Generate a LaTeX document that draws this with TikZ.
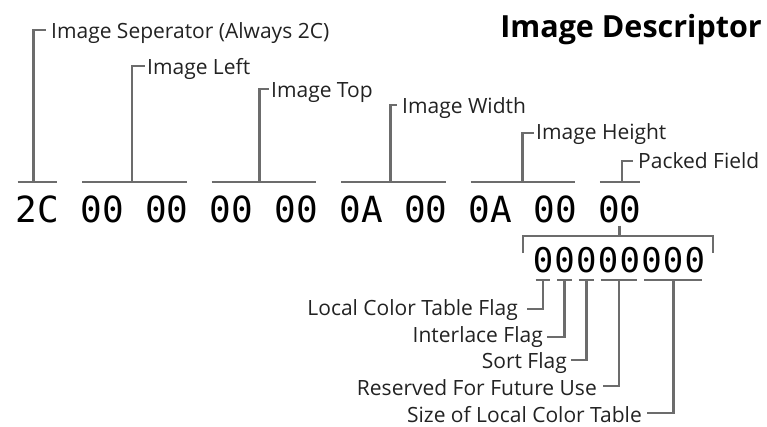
\documentclass[tikz,border=0pt]{standalone}
\usepackage{fontspec}
\setmainfont{Open Sans}
\newfontfamily\hexfont{DejaVu Sans Mono}
\definecolor{leadGray}{RGB}{108,108,108}
\definecolor{labelInk}{RGB}{34,34,34}
\usetikzlibrary{positioning}

\begin{document}
\begin{tikzpicture}[
      x=1pt, y=-1pt,
      every node/.style={inner sep=0pt, text=labelInk},
      hexbyte/.style={font=\hexfont\fontsize{36}{36}\selectfont, anchor=base, text=black},
      bitcell/.style={font=\hexfont\fontsize{34}{34}\selectfont, anchor=base, text=black},
      field/.style={font=\fontsize{21}{24}\selectfont, anchor=base west},
      bitfield/.style={font=\fontsize{21}{24}\selectfont, anchor=base east},
      lead/.style={draw=leadGray, line width=2.8pt},
      bytebar/.style={lead, shorten <=2pt, shorten >=2pt},
      bitbar/.style={lead, shorten <=3pt, shorten >=3pt}
    ]
      \useasboundingbox (0,0) rectangle (767,426);

      % title
      \node[font=\bfseries\fontsize{30.5}{32}\selectfont, anchor=base east, text=black] (title) at (762,37) {Image Descriptor};

      % hex bytes
      \foreach \v [count=\i from 0] in {2C,00,00,00,00,0A,00,0A,00,00}
        \node[hexbyte] (b\i) at (37.5+64.7*\i,222) {\v};

      \coordinate (topbar) at (0,182);
      \draw[bytebar] (b0.west |- topbar) -- coordinate[pos=0.4] (t0) (b0.east |- topbar);
      \draw[bytebar] (b1.west |- topbar) -- coordinate[pos=0.476] (t1) (b2.east |- topbar);
      \draw[bytebar] (b3.west |- topbar) -- coordinate[pos=0.46] (t2) (b4.east |- topbar);
      \draw[bytebar] (b5.west |- topbar) -- coordinate[pos=0.47] (t3) (b6.east |- topbar);
      \draw[bytebar] (b7.west |- topbar) -- coordinate[pos=0.5] (t4) (b8.east |- topbar);
      \draw[bytebar] (b9.west |- topbar) -- coordinate[pos=0.55] (t5) (b9.east |- topbar);

      % byte labels
      \node[field] (sep) at (51,38) {Image Seperator (Always 2C)};
      \node[field] (left) at (147,74) {Image Left};
      \node[field] (top) at (271,97) {Image Top};
      \node[field] (width) at (402,113) {Image Width};
      \node[field] (height) at (536,139) {Image Height};
      \node[field] (packed) at (638,168) {Packed Field};

      \draw[lead] (t0) |- ([xshift=-5pt, yshift=8pt]sep.base west);
      \draw[lead] (t1) |- ([xshift=-2pt, yshift=8pt]left.base west);
      \draw[lead] (t2) |- ([xshift=-2pt, yshift=8pt]top.base west);
      \draw[lead] (t3) |- ([xshift=-5pt, yshift=8pt]width.base west);
      \draw[lead] (t4) |- ([xshift=-2pt, yshift=6pt]height.base west);
      \draw[lead] (t5) |- ([xshift=-5pt, yshift=7pt]packed.base west);

      % packed field bits
      \foreach \i in {0,...,7}
        \node[bitcell] (bit\i) at (543+21.7*\i,272) {0};

      \coordinate (brkL) at (523,253);
      \coordinate (brkR) at (713,253);
      \draw[lead] (brkL) -- ++(0,-17) -| (brkR);
      \draw[lead] ([yshift=-3pt]b9.south) -- ([yshift=-14pt]b9.south);

      \coordinate (bitline) at (0,280);
      \foreach \a/\b [count=\k from 0] in {0/0,1/1,2/2,3/4,5/7}
        \draw[bitbar] (bit\a.west |- bitline) -- coordinate (f\k) (bit\b.east |- bitline);

      % bit labels
      \node[bitfield] (lctf) at (518,315) {Local Color Table Flag};
      \node[bitfield] (ilf) at (543,342) {Interlace Flag};
      \node[bitfield] (srt) at (567,368) {Sort Flag};
      \node[bitfield] (rsv) at (597,395) {Reserved For Future Use};
      \node[bitfield] (lcts) at (642,422) {Size of Local Color Table};

      \draw[lead] (f0) |- ([xshift=9pt, yshift=6pt]lctf.base east);
      \draw[lead] (f1) |- ([xshift=4pt, yshift=5pt]ilf.base east);
      \draw[lead] (f2) |- ([xshift=4pt, yshift=8pt]srt.base east);
      \draw[lead] (f3) |- ([xshift=6pt, yshift=9pt]rsv.base east);
      \draw[lead] (f4) |- ([xshift=5pt, yshift=9pt]lcts.base east);
    \end{tikzpicture}
\end{document}
